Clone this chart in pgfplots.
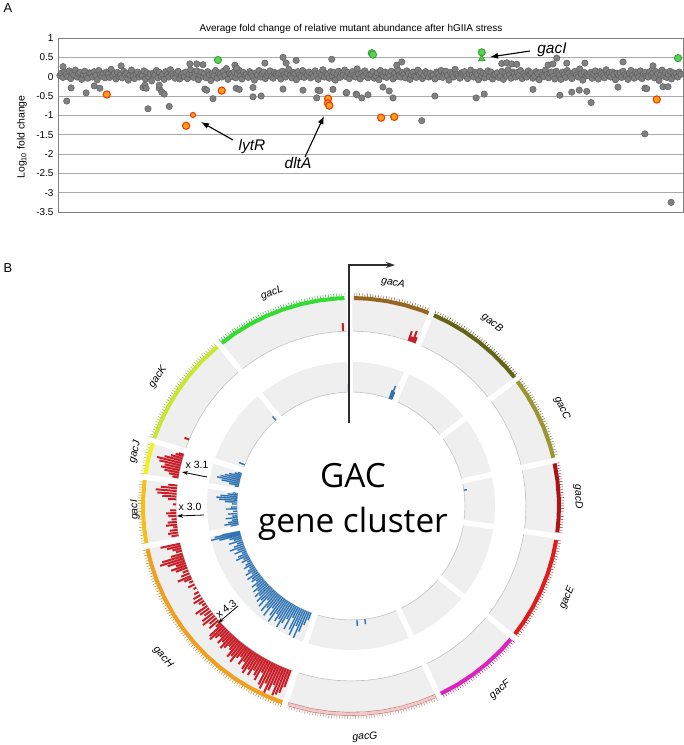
\documentclass[border=0pt]{standalone}
\usepackage{pgfplots}
\pgfplotsset{compat=1.18}
\usepgfplotslibrary{polar}
\usepackage{pgfplotstable}
\usetikzlibrary{arrows.meta}
\usepackage{fontspec}
\setmainfont{Liberation Sans}
\newfontfamily\gacfont{Open Sans}

\definecolor{ptfill}{RGB}{128,128,128}
\definecolor{ptdraw}{RGB}{95,95,95}
\definecolor{orfill}{RGB}{255,160,20}
\definecolor{ordraw}{RGB}{235,60,10}
\definecolor{grfill}{RGB}{100,205,90}
\definecolor{grdraw}{RGB}{45,165,45}
\definecolor{gridc}{RGB}{170,170,170}
\definecolor{track}{RGB}{239,239,239}
\definecolor{baseln}{RGB}{195,195,195}
\definecolor{barred}{RGB}{200,30,40}
\definecolor{barblue}{RGB}{45,115,180}
\definecolor{cA}{RGB}{150,100,35}
\definecolor{cB}{RGB}{100,100,25}
\definecolor{cC}{RGB}{155,150,50}
\definecolor{cD}{RGB}{170,20,20}
\definecolor{cE}{RGB}{220,30,30}
\definecolor{cF}{RGB}{220,35,190}
\definecolor{cG}{RGB}{245,200,200}
\definecolor{cGd}{RGB}{185,130,130}
\definecolor{cH}{RGB}{240,160,30}
\definecolor{cI}{RGB}{245,190,25}
\definecolor{cJ}{RGB}{240,240,30}
\definecolor{cK}{RGB}{200,230,50}
\definecolor{cL}{RGB}{50,220,50}

\pgfplotstableread[header=false,row sep=\\]{
3\\9\\-2\\12\\6\\0\\15\\-5\\9\\4\\17\\-1\\7\\11\\-7\\5\\14\\2\\-4\\10\\
8\\-1\\13\\3\\-8\\16\\5\\1\\9\\-3\\12\\6\\-2\\19\\3\\8\\-6\\11\\1\\5\\
-3\\14\\6\\9\\-9\\4\\17\\2\\-5\\8\\12\\-1\\6\\3\\15\\-6\\10\\0\\7\\-11\\
9\\4\\16\\-3\\11\\1\\6\\-7\\13\\5\\-1\\18\\7\\2\\-4\\10\\14\\-6\\3\\8\\
0\\12\\-5\\6\\18\\3\\-2\\9\\15\\-8\\4\\11\\1\\7\\-3\\13\\5\\-10\\8\\2\\
16\\-4\\10\\6\\-1\\14\\3\\21\\-7\\9\\5\\0\\12\\-3\\7\\17\\2\\-6\\11\\4\\
6\\-2\\13\\8\\1\\-9\\10\\4\\16\\-1\\7\\12\\-5\\3\\9\\15\\0\\-4\\11\\6\\
2\\10\\-6\\14\\5\\-1\\8\\19\\3\\-3\\11\\7\\-8\\13\\4\\0\\16\\-2\\9\\5\\
12\\-3\\7\\1\\15\\6\\-7\\10\\3\\18\\-1\\8\\5\\-4\\13\\2\\11\\-9\\6\\14\\
-2\\9\\4\\17\\0\\11\\-5\\7\\13\\3\\-1\\20\\6\\-6\\10\\2\\15\\8\\-3\\5\\
7\\13\\-4\\2\\10\\-8\\16\\5\\1\\12\\-2\\9\\4\\14\\-6\\8\\0\\18\\3\\-1\\
11\\5\\-3\\15\\8\\-7\\4\\12\\1\\-2\\17\\6\\10\\-5\\3\\13\\7\\-1\\9\\2\\
4\\-6\\12\\7\\0\\16\\-2\\9\\14\\3\\-9\\11\\5\\-1\\19\\6\\2\\-4\\10\\8\\
13\\1\\-5\\8\\17\\4\\-1\\11\\6\\-8\\14\\2\\9\\-3\\7\\15\\0\\12\\-6\\5\\
6\\10\\-2\\3\\14\\-7\\9\\1\\18\\5\\-4\\12\\7\\-1\\11\\3\\16\\-5\\8\\2\\
-1\\15\\6\\10\\-4\\2\\13\\8\\-8\\11\\4\\0\\17\\6\\-3\\9\\12\\1\\-6\\14\\
8\\3\\-7\\12\\5\\-2\\16\\9\\1\\-5\\10\\14\\4\\-1\\20\\7\\-9\\11\\2\\6\\
3\\11\\-4\\7\\15\\0\\-6\\13\\8\\2\\-3\\18\\5\\10\\-1\\12\\6\\-8\\9\\4\\
10\\-2\\14\\5\\1\\-7\\9\\16\\3\\-4\\12\\7\\0\\15\\-5\\8\\11\\2\\-1\\13\\
5\\9\\-3\\13\\7\\-10\\4\\17\\1\\11\\-2\\6\\14\\-6\\10\\3\\8\\-1\\12\\6\\
}\graydata

\begin{document}
\begin{tikzpicture}
\useasboundingbox (0,0) rectangle (684bp,-745bp);

% ---------------- Panel A ----------------
\node[anchor=west, font=\fontsize{13}{15}\selectfont] at (0bp,-8bp) {A};
\node[font=\fontsize{10}{12}\selectfont] at (351bp,-29bp) {Average fold change of relative mutant abundance after hGIIA stress};
\node[rotate=90, font=\fontsize{10.5}{12}\selectfont] at (22bp,-137bp) {Log$_{\mathrm{10}}$ fold change};

\begin{axis}[
  at={(58bp,-212bp)}, anchor=south west,
  scale only axis, width=625bp, height=174bp,
  xmin=0, xmax=1000, ymin=-3.5, ymax=1,
  xtick=\empty,
  ytick={-3.5,-3,-2.5,-2,-1.5,-1,-0.5,0,0.5,1},
  ymajorgrids, grid style={draw=gridc, line width=0.9bp},
  axis line style={draw=gridc!75!black, line width=0.8bp},
  major tick length=0pt,
  yticklabel style={font=\fontsize{10}{12}\selectfont, xshift=-1bp},
  /pgf/number format/assume math mode=true,
  clip=false,
]
\addplot[only marks, mark=*, mark size=3.2bp, mark options={fill=ptfill, draw=ptdraw, line width=0.5bp}]
  table[x index=0, y index=0, x expr=\coordindex*2.49+3, y expr=\thisrowno{0}/100] {\graydata};
\addplot[only marks, mark=*, mark size=3.2bp, mark options={fill=ptfill, draw=ptdraw, line width=0.5bp}] coordinates {
(8,0.26)(14,-0.63)(21,-0.29)(45,-0.42)(58,-0.24)(67,-0.30)(101,0.28)(136,-0.28)(139,-0.22)(141,-0.30)
(144,-0.83)(162,-0.30)(162,-0.22)(166,-0.40)(170,-0.45)(178,-0.77)(211,0.33)(222,0.33)(232,0.31)(235,-0.32)
(238,-0.35)(248,-0.57)(283,0.30)(285,-0.30)(286,0.22)(290,-0.33)(312,-0.52)(312,-0.28)(325,-0.50)(331,0.35)
(360,0.50)(360,-0.32)(365,0.35)(381,0.42)(392,-0.35)(414,-0.55)(416,-0.35)(419,-0.36)(438,0.45)(440,-0.33)
(461,-0.42)(462,-0.41)(477,-0.45)(478,-0.47)(486,-0.55)(496,-0.47)(520,-0.27)(530,-0.37)(536,-0.55)(542,0.30)
(550,0.38)(582,-1.14)(603,-0.50)(669,-0.55)(682,-0.45)(710,0.34)(718,0.36)(726,0.33)(734,0.32)(760,-0.33)
(784,0.30)(792,0.33)(798,0.48)(803,-0.48)(814,0.35)(822,-0.40)(834,-0.35)(843,0.35)(846,-0.38)(853,-0.67)
(896,-0.27)(904,0.38)(939,-1.48)(939,-0.30)(942,-0.31)(952,0.28)(968,-0.26)(976,-0.26)(981,-3.25)
};
\addplot[only marks, mark=*, mark size=3.6bp, mark options={fill=orfill, draw=ordraw, line width=1.1bp}] coordinates {
(78,-0.46)(205,-1.27)(262,-0.36)(432,-0.57)(432,-0.69)(434,-0.75)(517,-1.06)(538,-1.04)(958,-0.59)
};
\addplot[only marks, mark=*, mark size=2.6bp, mark options={fill=orfill, draw=ordraw, line width=1bp}] coordinates {(216,-0.99)};
\addplot[only marks, mark=*, mark size=3.6bp, mark options={fill=grfill, draw=grdraw, line width=0.9bp}] coordinates {
(256,0.43)(502,0.61)(504,0.57)(678,0.63)(992,0.48)
};
\addplot[only marks, mark=triangle*, mark size=3.6bp, mark options={fill=grfill, draw=grdraw, line width=0.9bp}] coordinates {(678,0.46)};
\end{axis}

\draw[line width=1.1bp, -{Latex[length=8bp,width=6bp]}] (233bp,-140bp) -- (201bp,-122bp);
\draw[line width=1.1bp, -{Latex[length=8bp,width=6bp]}] (305bp,-157bp) -- (324bp,-116bp);
\draw[line width=1.1bp, -{Latex[length=8bp,width=6bp]}] (530bp,-51bp) -- (490bp,-57bp);
\node[font=\fontsize{15.5}{18}\selectfont\itshape] at (252bp,-147bp) {lytR};
\node[font=\fontsize{15.5}{18}\selectfont\itshape] at (298bp,-163bp) {dltA};
\node[font=\fontsize{15.5}{18}\selectfont\itshape] at (552bp,-50bp) {gacI};

% ---------------- Panel B ----------------
\node[anchor=west, font=\fontsize{13}{15}\selectfont] at (0bp,-268bp) {B};

\begin{polaraxis}[
  at={(351bp,-506bp)}, anchor=center,
  scale only axis, width=490bp, height=490bp,
  xmin=0, xmax=360, ymin=0, ymax=245,
  hide axis, clip=false,
  x filter/.expression={90-x},
  unbounded coords=jump,
]
% gray tracks
\addplot[draw=track, line width=31bp, line join=round] coordinates {
(0,190.5)(5,190.5)(10,190.5)(15,190.5)(20,190.5)(25,190.5)(30,190.5)(35,190.5)(40,190.5)(45,190.5)(50,190.5)(55,190.5)(60,190.5)(65,190.5)(70,190.5)(75,190.5)(80,190.5)(85,190.5)(90,190.5)(95,190.5)(100,190.5)(105,190.5)(110,190.5)(115,190.5)(120,190.5)(125,190.5)(130,190.5)(135,190.5)(140,190.5)(145,190.5)(150,190.5)(155,190.5)(160,190.5)(165,190.5)(170,190.5)(175,190.5)(180,190.5)(185,190.5)(190,190.5)(195,190.5)(200,190.5)(205,190.5)(210,190.5)(215,190.5)(220,190.5)(225,190.5)(230,190.5)(235,190.5)(240,190.5)(245,190.5)(250,190.5)(255,190.5)(260,190.5)(265,190.5)(270,190.5)(275,190.5)(280,190.5)(285,190.5)(290,190.5)(295,190.5)(300,190.5)(305,190.5)(310,190.5)(315,190.5)(320,190.5)(325,190.5)(330,190.5)(335,190.5)(340,190.5)(345,190.5)(350,190.5)(355,190.5)(360,190.5)
};
\addplot[draw=track, line width=30bp, line join=round] coordinates {
(0,129)(5,129)(10,129)(15,129)(20,129)(25,129)(30,129)(35,129)(40,129)(45,129)(50,129)(55,129)(60,129)(65,129)(70,129)(75,129)(80,129)(85,129)(90,129)(95,129)(100,129)(105,129)(110,129)(115,129)(120,129)(125,129)(130,129)(135,129)(140,129)(145,129)(150,129)(155,129)(160,129)(165,129)(170,129)(175,129)(180,129)(185,129)(190,129)(195,129)(200,129)(205,129)(210,129)(215,129)(220,129)(225,129)(230,129)(235,129)(240,129)(245,129)(250,129)(255,129)(260,129)(265,129)(270,129)(275,129)(280,129)(285,129)(290,129)(295,129)(300,129)(305,129)(310,129)(315,129)(320,129)(325,129)(330,129)(335,129)(340,129)(345,129)(350,129)(355,129)(360,129)
};
\addplot[draw=baseln, line width=0.6bp] coordinates {
(0,175)(5,175)(10,175)(15,175)(20,175)(25,175)(30,175)(35,175)(40,175)(45,175)(50,175)(55,175)(60,175)(65,175)(70,175)(75,175)(80,175)(85,175)(90,175)(95,175)(100,175)(105,175)(110,175)(115,175)(120,175)(125,175)(130,175)(135,175)(140,175)(145,175)(150,175)(155,175)(160,175)(165,175)(170,175)(175,175)(180,175)(185,175)(190,175)(195,175)(200,175)(205,175)(210,175)(215,175)(220,175)(225,175)(230,175)(235,175)(240,175)(245,175)(250,175)(255,175)(260,175)(265,175)(270,175)(275,175)(280,175)(285,175)(290,175)(295,175)(300,175)(305,175)(310,175)(315,175)(320,175)(325,175)(330,175)(335,175)(340,175)(345,175)(350,175)(355,175)(360,175)
};
\addplot[draw=baseln, line width=0.6bp] coordinates {
(0,114)(5,114)(10,114)(15,114)(20,114)(25,114)(30,114)(35,114)(40,114)(45,114)(50,114)(55,114)(60,114)(65,114)(70,114)(75,114)(80,114)(85,114)(90,114)(95,114)(100,114)(105,114)(110,114)(115,114)(120,114)(125,114)(130,114)(135,114)(140,114)(145,114)(150,114)(155,114)(160,114)(165,114)(170,114)(175,114)(180,114)(185,114)(190,114)(195,114)(200,114)(205,114)(210,114)(215,114)(220,114)(225,114)(230,114)(235,114)(240,114)(245,114)(250,114)(255,114)(260,114)(265,114)(270,114)(275,114)(280,114)(285,114)(290,114)(295,114)(300,114)(305,114)(310,114)(315,114)(320,114)(325,114)(330,114)(335,114)(340,114)(345,114)(350,114)(355,114)(360,114)
};

% red bars (outer track, baseline r=175)
\addplot[draw=barred, line width=2.0bp, y filter/.expression={y+175}] coordinates {
(357.4,0)(357.4,8)(nan,nan)
(19.2,0)(19.2,10)(nan,nan)(19.9,0)(19.9,5)(nan,nan)(20.6,0)(20.6,12)(nan,nan)(21.3,0)(21.3,6)(nan,nan)
(292.3,0)(292.3,5)(nan,nan)
(279.4,0)(279.4,6)(nan,nan)(280.2,0)(280.2,10)(nan,nan)(281,0)(281,15)(nan,nan)(281.8,0)(281.8,19)(nan,nan)(282.6,0)(282.6,16)(nan,nan)(283.4,0)(283.4,22)(nan,nan)(284.2,0)(284.2,25)(nan,nan)(285,0)(285,18)(nan,nan)(285.8,0)(285.8,12)(nan,nan)(286.6,0)(286.6,8)(nan,nan)(287.2,0)(287.2,5)(nan,nan)
(260.4,0)(260.4,7)(nan,nan)(261.3,0)(261.3,10)(nan,nan)(262.2,0)(262.2,8)(nan,nan)(263.1,0)(263.1,4)(nan,nan)(263.9,0)(263.9,11)(nan,nan)(264.8,0)(264.8,9)(nan,nan)(265.7,0)(265.7,5)(nan,nan)(266.8,0)(266.8,8)(nan,nan)(267.7,0)(267.7,10)(nan,nan)(268.6,0)(268.6,6)(nan,nan)(270.5,0)(270.5,3)(nan,nan)(272.2,0)(272.2,8)(nan,nan)(273.1,0)(273.1,14)(nan,nan)(274,0)(274,19)(nan,nan)(274.9,0)(274.9,21)(nan,nan)(275.8,0)(275.8,16)(nan,nan)(276.7,0)(276.7,9)(nan,nan)
(257.6,0)(257.6,20)(nan,nan)(256.8,0)(256.8,14)(nan,nan)(256,0)(256,9)(nan,nan)(255.2,0)(255.2,6)(nan,nan)(254.2,0)(254.2,12)(nan,nan)(253.4,0)(253.4,22)(nan,nan)(252.6,0)(252.6,25)(nan,nan)(251.8,0)(251.8,18)(nan,nan)(251,0)(251,10)(nan,nan)(250.2,0)(250.2,16)(nan,nan)
(249.4,0)(249.4,12)(nan,nan)(248.4,0)(248.4,6)(nan,nan)(247.4,0)(247.4,9)(nan,nan)(246.4,0)(246.4,14)(nan,nan)(245.6,0)(245.6,8)(nan,nan)(244.6,0)(244.6,4)(nan,nan)(243.4,0)(243.4,7)(nan,nan)(242.2,0)(242.2,3)(nan,nan)(240.6,0)(240.6,5)(nan,nan)(239.4,0)(239.4,8)(nan,nan)
(238.2,0)(238.2,10)(nan,nan)(237.2,0)(237.2,6)(nan,nan)(236.2,0)(236.2,4)(nan,nan)(235.2,0)(235.2,14)(nan,nan)(234.2,0)(234.2,11)(nan,nan)(233.2,0)(233.2,8)(nan,nan)(232.2,0)(232.2,13)(nan,nan)(231.2,0)(231.2,15)(nan,nan)(230.2,0)(230.2,9)(nan,nan)(229.2,0)(229.2,12)(nan,nan)
(228.2,0)(228.2,6)(nan,nan)(227.4,0)(227.4,17)(nan,nan)(226.6,0)(226.6,19)(nan,nan)(225.8,0)(225.8,14)(nan,nan)(225,0)(225,10)(nan,nan)(224.2,0)(224.2,16)(nan,nan)(223.4,0)(223.4,12)(nan,nan)(222.6,0)(222.6,18)(nan,nan)(221.8,0)(221.8,15)(nan,nan)(221,0)(221,11)(nan,nan)
(220.2,0)(220.2,13)(nan,nan)(219.4,0)(219.4,20)(nan,nan)(218.6,0)(218.6,17)(nan,nan)(217.8,0)(217.8,22)(nan,nan)(217,0)(217,15)(nan,nan)(216.2,0)(216.2,12)(nan,nan)(215.4,0)(215.4,19)(nan,nan)(214.6,0)(214.6,14)(nan,nan)(213.8,0)(213.8,21)(nan,nan)(213,0)(213,24)(nan,nan)
(212.2,0)(212.2,18)(nan,nan)(211.4,0)(211.4,23)(nan,nan)(210.6,0)(210.6,16)(nan,nan)(209.8,0)(209.8,20)(nan,nan)(209,0)(209,24)(nan,nan)(208.2,0)(208.2,14)(nan,nan)(207.4,0)(207.4,26)(nan,nan)(206.6,0)(206.6,29)(nan,nan)(205.8,0)(205.8,22)(nan,nan)(205,0)(205,31)(nan,nan)
(204.2,0)(204.2,27)(nan,nan)(203.4,0)(203.4,20)(nan,nan)(202.6,0)(202.6,30)(nan,nan)(201.8,0)(201.8,28)(nan,nan)(201,0)(201,25)(nan,nan)(200.2,0)(200.2,18)(nan,nan)
};

% blue bars (inner track, baseline r=114)
\addplot[draw=barblue, line width=1.4bp, y filter/.expression={y+114}] coordinates {
(358.6,0)(358.6,8)(nan,nan)
(19.6,0)(19.6,9)(nan,nan)(20.3,0)(20.3,14)(nan,nan)(21,0)(21,8)(nan,nan)
(318.8,0)(318.8,5)(nan,nan)(291.2,0)(291.2,6)(nan,nan)
(82,0)(82,3)(nan,nan)(173,0)(173,5)(nan,nan)(177,0)(177,6)(nan,nan)
(279.6,0)(279.6,4)(nan,nan)(280.5,0)(280.5,10)(nan,nan)(281.4,0)(281.4,18)(nan,nan)(282.3,0)(282.3,23)(nan,nan)(283.2,0)(283.2,20)(nan,nan)(284.1,0)(284.1,16)(nan,nan)(285,0)(285,12)(nan,nan)(285.9,0)(285.9,7)(nan,nan)(286.8,0)(286.8,4)(nan,nan)
(260.5,0)(260.5,8)(nan,nan)(261.4,0)(261.4,14)(nan,nan)(262.3,0)(262.3,10)(nan,nan)(263.2,0)(263.2,6)(nan,nan)(264.2,0)(264.2,12)(nan,nan)(265.1,0)(265.1,5)(nan,nan)(266.2,0)(266.2,9)(nan,nan)(267.4,0)(267.4,4)(nan,nan)(268.6,0)(268.6,11)(nan,nan)(269.5,0)(269.5,6)(nan,nan)
(271,0)(271,5)(nan,nan)(272,0)(272,12)(nan,nan)(272.9,0)(272.9,18)(nan,nan)(273.8,0)(273.8,21)(nan,nan)(274.7,0)(274.7,17)(nan,nan)(275.6,0)(275.6,10)(nan,nan)(276.5,0)(276.5,5)(nan,nan)
(257.8,0)(257.8,18)(nan,nan)(257,0)(257,26)(nan,nan)(256.2,0)(256.2,30)(nan,nan)(255.4,0)(255.4,22)(nan,nan)(254.5,0)(254.5,12)(nan,nan)(253.6,0)(253.6,8)(nan,nan)(252.6,0)(252.6,14)(nan,nan)(251.6,0)(251.6,6)(nan,nan)(250.6,0)(250.6,10)(nan,nan)(249.6,0)(249.6,15)(nan,nan)
(248.6,0)(248.6,8)(nan,nan)(247.6,0)(247.6,12)(nan,nan)(246.6,0)(246.6,5)(nan,nan)(245.6,0)(245.6,10)(nan,nan)(244.6,0)(244.6,13)(nan,nan)(243.6,0)(243.6,6)(nan,nan)(242.6,0)(242.6,9)(nan,nan)(241.6,0)(241.6,4)(nan,nan)(240.6,0)(240.6,7)(nan,nan)(239.6,0)(239.6,10)(nan,nan)
(238.6,0)(238.6,5)(nan,nan)(237.6,0)(237.6,8)(nan,nan)(236.6,0)(236.6,12)(nan,nan)(235.6,0)(235.6,6)(nan,nan)(234.6,0)(234.6,13)(nan,nan)(233.6,0)(233.6,9)(nan,nan)(232.6,0)(232.6,11)(nan,nan)(231.6,0)(231.6,7)(nan,nan)(230.6,0)(230.6,14)(nan,nan)(229.6,0)(229.6,10)(nan,nan)
(228.6,0)(228.6,16)(nan,nan)(227.6,0)(227.6,12)(nan,nan)(226.6,0)(226.6,18)(nan,nan)(225.6,0)(225.6,14)(nan,nan)(224.6,0)(224.6,20)(nan,nan)(223.6,0)(223.6,16)(nan,nan)(222.6,0)(222.6,22)(nan,nan)(221.6,0)(221.6,12)(nan,nan)(220.6,0)(220.6,24)(nan,nan)(219.6,0)(219.6,18)(nan,nan)
(218.6,0)(218.6,26)(nan,nan)(217.6,0)(217.6,15)(nan,nan)(216.6,0)(216.6,22)(nan,nan)(215.6,0)(215.6,28)(nan,nan)(214.6,0)(214.6,17)(nan,nan)(213.6,0)(213.6,24)(nan,nan)(212.6,0)(212.6,20)(nan,nan)(211.6,0)(211.6,28)(nan,nan)(210.6,0)(210.6,22)(nan,nan)(209.6,0)(209.6,16)(nan,nan)
(208.6,0)(208.6,26)(nan,nan)(207.6,0)(207.6,12)(nan,nan)(206.6,0)(206.6,24)(nan,nan)(205.6,0)(205.6,29)(nan,nan)(204.6,0)(204.6,18)(nan,nan)(203.6,0)(203.6,30)(nan,nan)(202.6,0)(202.6,22)(nan,nan)(201.6,0)(201.6,14)(nan,nan)(200.6,0)(200.6,8)(nan,nan)
};

% white gaps between sectors
\addplot[draw=white, line width=5.5bp] coordinates {
(359.6,108)(359.6,207)(nan,nan)(22.7,108)(22.7,207)(nan,nan)(52.5,108)(52.5,207)(nan,nan)(77.4,108)(77.4,207)(nan,nan)
(98.3,108)(98.3,207)(nan,nan)(128.9,108)(128.9,207)(nan,nan)(155.2,108)(155.2,207)(nan,nan)(198.4,108)(198.4,207)(nan,nan)
(258.9,108)(258.9,207)(nan,nan)(278,108)(278,207)(nan,nan)(288.3,108)(288.3,207)(nan,nan)(320.8,108)(320.8,207)(nan,nan)
};

% gene arcs and tick rows
\addplot[draw=cA, line width=4bp] coordinates {(0.8,208)(5,208)(10,208)(15,208)(20,208)(21.9,208)};
\addplot[draw=cA!75!black, line width=3bp, dash pattern=on 0.4bp off 2.3bp] coordinates {(0.8,211.5)(5,211.5)(10,211.5)(15,211.5)(20,211.5)(21.9,211.5)};
\addplot[draw=cB, line width=4bp] coordinates {(23.5,208)(28,208)(33,208)(38,208)(43,208)(48,208)(51.8,208)};
\addplot[draw=cB!75!black, line width=3bp, dash pattern=on 0.4bp off 2.3bp] coordinates {(23.5,211.5)(28,211.5)(33,211.5)(38,211.5)(43,211.5)(48,211.5)(51.8,211.5)};
\addplot[draw=cC, line width=4bp] coordinates {(53.2,208)(58,208)(63,208)(68,208)(73,208)(76.6,208)};
\addplot[draw=cC!75!black, line width=3bp, dash pattern=on 0.4bp off 2.3bp] coordinates {(53.2,211.5)(58,211.5)(63,211.5)(68,211.5)(73,211.5)(76.6,211.5)};
\addplot[draw=cD, line width=4bp] coordinates {(78.2,208)(83,208)(88,208)(93,208)(97.3,208)};
\addplot[draw=cD!75!black, line width=3bp, dash pattern=on 0.4bp off 2.3bp] coordinates {(78.2,211.5)(83,211.5)(88,211.5)(93,211.5)(97.3,211.5)};
\addplot[draw=cE, line width=4bp] coordinates {(99.4,208)(104,208)(109,208)(114,208)(119,208)(124,208)(128,208)};
\addplot[draw=cE!75!black, line width=3bp, dash pattern=on 0.4bp off 2.3bp] coordinates {(99.4,211.5)(104,211.5)(109,211.5)(114,211.5)(119,211.5)(124,211.5)(128,211.5)};
\addplot[draw=cF, line width=4bp] coordinates {(129.8,208)(134,208)(139,208)(144,208)(149,208)(154.4,208)};
\addplot[draw=cF!75!black, line width=3bp, dash pattern=on 0.4bp off 2.3bp] coordinates {(129.8,211.5)(134,211.5)(139,211.5)(144,211.5)(149,211.5)(154.4,211.5)};
\addplot[draw=cGd, line width=4bp] coordinates {(156,208)(161,208)(166,208)(171,208)(176,208)(181,208)(186,208)(191,208)(197.6,208)};
\addplot[draw=cG, line width=2.8bp] coordinates {(156.1,208)(161,208)(166,208)(171,208)(176,208)(181,208)(186,208)(191,208)(197.5,208)};
\addplot[draw=cGd, line width=3bp, dash pattern=on 0.4bp off 2.3bp] coordinates {(156,211.5)(161,211.5)(166,211.5)(171,211.5)(176,211.5)(181,211.5)(186,211.5)(191,211.5)(197.6,211.5)};
\addplot[draw=cH, line width=4bp] coordinates {(199.3,208)(204,208)(209,208)(214,208)(219,208)(224,208)(229,208)(234,208)(239,208)(244,208)(249,208)(254,208)(258.1,208)};
\addplot[draw=cH!75!black, line width=3bp, dash pattern=on 0.4bp off 2.3bp] coordinates {(199.3,211.5)(204,211.5)(209,211.5)(214,211.5)(219,211.5)(224,211.5)(229,211.5)(234,211.5)(239,211.5)(244,211.5)(249,211.5)(254,211.5)(258.1,211.5)};
\addplot[draw=cI, line width=4bp] coordinates {(259.7,208)(264,208)(268,208)(272,208)(277.2,208)};
\addplot[draw=cI!75!black, line width=3bp, dash pattern=on 0.4bp off 2.3bp] coordinates {(259.7,211.5)(264,211.5)(268,211.5)(272,211.5)(277.2,211.5)};
\addplot[draw=cJ, line width=4bp] coordinates {(278.8,208)(283,208)(287.6,208)};
\addplot[draw=cJ!75!black, line width=3bp, dash pattern=on 0.4bp off 2.3bp] coordinates {(278.8,211.5)(283,211.5)(287.6,211.5)};
\addplot[draw=cK, line width=4bp] coordinates {(289,208)(294,208)(299,208)(304,208)(309,208)(314,208)(320,208)};
\addplot[draw=cK!75!black, line width=3bp, dash pattern=on 0.4bp off 2.3bp] coordinates {(289,211.5)(294,211.5)(299,211.5)(304,211.5)(309,211.5)(314,211.5)(320,211.5)};
\addplot[draw=cL, line width=4bp] coordinates {(321.6,208)(326,208)(331,208)(336,208)(341,208)(346,208)(351,208)(356,208)(358.2,208)};
\addplot[draw=cL!75!black, line width=3bp, dash pattern=on 0.4bp off 2.3bp] coordinates {(321.6,211.5)(326,211.5)(331,211.5)(336,211.5)(341,211.5)(346,211.5)(351,211.5)(356,211.5)(358.2,211.5)};
\end{polaraxis}

% start marker line
\draw[line width=1.3bp, draw={rgb,255:red,45;green,45;blue,45}, -{Stealth[length=9bp,width=6bp]}] (349bp,-423bp) -- (349bp,-265bp) -- (395bp,-265bp);

% centre text
\node[font=\gacfont\fontsize{33.5}{40}\selectfont, anchor=base] at (353bp,-487bp) {GAC};
\node[font=\gacfont\fontsize{33.5}{40}\selectfont, anchor=base] at (353bp,-532bp) {gene cluster};

% gene labels
\begin{scope}[every node/.style={font=\fontsize{10.5}{12}\selectfont\itshape, inner sep=0pt}]
\node[rotate=-10.8] at (393bp,-283bp) {gacA};
\node[rotate=-37.6] at (492bp,-323bp) {gacB};
\node[rotate=-65] at (562bp,-408bp) {gacC};
\node[rotate=-88] at (578bp,-497bp) {gacD};
\node[rotate=66.5] at (567bp,-598bp) {gacE};
\node[rotate=38.5] at (500bp,-690bp) {gacF};
\node[rotate=3] at (365bp,-737bp) {gacG};
\node[rotate=-50] at (163bp,-657bp) {gacH};
\node[rotate=91] at (135bp,-510bp) {gacI};
\node[rotate=76] at (135bp,-452bp) {gacJ};
\node[rotate=56] at (158bp,-377bp) {gacK};
\node[rotate=20] at (272bp,-293bp) {gacL};
\end{scope}

% fold annotations
\draw[line width=0.8bp, -{Stealth[length=6bp,width=4bp]}] (207bp,-477bp) -- (182bp,-472bp);
\draw[line width=0.8bp, -{Stealth[length=6bp,width=4bp]}] (204bp,-515bp) -- (177bp,-516bp);
\draw[line width=0.8bp, -{Stealth[length=6bp,width=4bp]}] (238bp,-606bp) -- (218bp,-623bp);
\node[font=\fontsize{10.5}{12}\selectfont] at (197bp,-465bp) {x 3.1};
\node[font=\fontsize{10.5}{12}\selectfont] at (190bp,-507bp) {x 3.0};
\node[font=\fontsize{10.5}{12}\selectfont, rotate=38] at (226bp,-609bp) {x 4.3};
\end{tikzpicture}
\end{document}
